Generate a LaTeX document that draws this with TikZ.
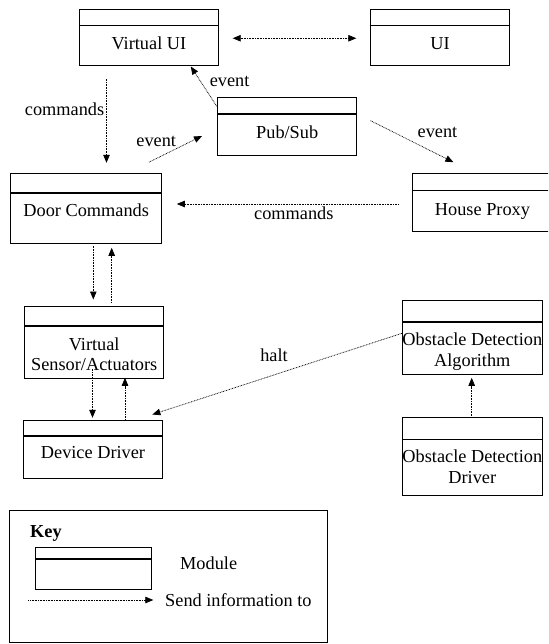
\documentclass[tikz,border=0pt]{standalone}
\usepackage{fontspec}
\setmainfont{Liberation Serif}
\usetikzlibrary{arrows.meta,calc}
\begin{document}
\begin{tikzpicture}[x=1pt,y=-1pt,
  module/.style={draw,line width=1pt,rectangle,inner sep=0pt,
    path picture={\draw[line width=1.6pt]
      ([yshift=-#1]path picture bounding box.north west) --
      ([yshift=-#1]path picture bounding box.north east);}},
  txt/.style={inner sep=0pt,font=\fontsize{18.3}{20.5}\selectfont},
  flow/.style={line width=0.75pt,dash pattern=on 0.75pt off 0.85pt,
    -{Triangle[length=8pt,width=6.5pt]}},
  bothflow/.style={flow,{Triangle[length=8pt,width=6.5pt]}-{Triangle[length=8pt,width=6.5pt]}}
]
\useasboundingbox (0,0) rectangle (548,644);
\clip (0,0) rectangle (548,644);

% modules
\node[module=16.4pt,minimum width=138.6pt,minimum height=56.7pt] (vui) at (148.9,37.65) {};
\node[module=16.4pt,minimum width=139.7pt,minimum height=56.7pt] (ui) at (439.95,37.65) {};
\node[module=16.3pt,minimum width=139.3pt,minimum height=57.6pt] (ps) at (287.15,126.5) {};
\node[module=19.3pt,minimum width=151pt,minimum height=69.3pt] (dc) at (86.2,208.65) {};
\node[module=16.7pt,minimum width=139pt,minimum height=57.7pt] (hp) at (481.8,202.85) {};
\node[module=19.3pt,minimum width=138.5pt,minimum height=71.6pt] (vsa) at (94.2,342.5) {};
\node[module=16pt,minimum width=138.7pt,minimum height=58.3pt] (dd) at (93.05,449.15) {};
\node[module=21pt,minimum width=140pt,minimum height=73.3pt] (oda) at (472.3,337.35) {};
\node[module=21.6pt,minimum width=140pt,minimum height=77.3pt] (odd) at (472.3,456.35) {};

% module texts
\node[txt,anchor=base] (vuit) at (148.9,49.5) {Virtual UI};
\node[txt,anchor=base] (uit) at (440,49.5) {UI};
\node[txt,anchor=base] (pst) at (287.2,138.9) {Pub/Sub};
\node[txt,anchor=base] (dct) at (86.2,216.9) {Door Commands};
\node[txt,anchor=base] (hpt) at (482.5,215) {House Proxy};
\node[txt,anchor=base] (vsat) at (94.2,350) {\begin{tabular}[t]{@{}c@{}}Virtual\\Sensor/Actuators\end{tabular}};
\node[txt,anchor=base] (ddt) at (93,458.8) {Device Driver};
\node[txt,anchor=base] (odat) at (472.3,345.5) {\begin{tabular}[t]{@{}c@{}}Obstacle Detection\\Algorithm\end{tabular}};
\node[txt,anchor=base] (oddt) at (472.3,462.8) {\begin{tabular}[t]{@{}c@{}}Obstacle Detection\\Driver\end{tabular}};

% connectors
\draw[bothflow] ($(vui.east)+(14,0.6)$) -- ($(ui.west)+(-13.3,0.6)$);
\draw[flow] ($(vui.south)+(-42.4,12.3)$) -- ($(dc.north)+(20.3,-10.7)$);
\draw[flow] ($(ps.north west)+(-0.3,9)$) -- ($(vui.south east)+(-27.9,0)$);
\draw[flow] ($(dc.north east)+(-13.3,-11.3)$) -- ($(ps.west)+(-15,9.5)$);
\draw[flow] ($(ps.east)+(13.3,-5.8)$) -- ($(hp.north west)+(41.6,-11.3)$);
\draw[flow] ($(hp.west)+(-13.3,1.15)$) -- ($(dc.east)+(14.6,-4.65)$);
\draw[flow] ($(dc.south)+(7.1,1.7)$) -- ($(vsa.north)+(-0.9,-6.7)$);
\draw[flow] ($(vsa.north)+(17.5,-3.4)$) -- ($(dc.south)+(25.5,4)$);
\draw[flow] ($(vsa.south)+(-1.7,-10)$) -- ($(dd.north)+(-0.55,-1.7)$);
\draw[flow] ($(dd.north)+(31.95,0)$) -- ($(vsa.south)+(30.8,-1)$);
\draw[flow] ($(oda.west)+(0,-4)$) -- ($(dd.north east)+(-10.5,-5)$);
\draw[flow] ($(odd.north)+(-0.6,-1)$) -- ($(oda.south)+(-0.6,3.3)$);

% connector labels
\node[txt,anchor=base] (l1) at (64.6,116) {commands};
\node[txt,anchor=base] (l2) at (229.6,86.5) {event};
\node[txt,anchor=base] (l3) at (156.2,146.5) {event};
\node[txt,anchor=base] (l4) at (437.5,137.5) {event};
\node[txt,anchor=base] (l5) at (293.8,219) {commands};
\node[txt,anchor=base] (l6) at (274,361.5) {halt};

% key
\node[draw,line width=1pt,minimum width=318.4pt,minimum height=132pt,inner sep=0pt] (key) at (168.5,576.7) {};
\node[txt,anchor=base west,font=\fontsize{18.3}{20.5}\selectfont\bfseries] (keyt) at (30,537.7) {Key};
\node[module=11.3pt,minimum width=116.7pt,minimum height=41.6pt] (keymod) at (93.35,568.5) {};
\node[txt,anchor=base west] (keymodt) at (180,569.3) {Module};
\coordinate (ka) at (28.3,600);
\coordinate (kb) at (153.3,600);
\draw[flow] (ka) -- (kb);
\node[txt,anchor=base west] (keyflowt) at (165,606) {Send information to};
\end{tikzpicture}
\end{document}
